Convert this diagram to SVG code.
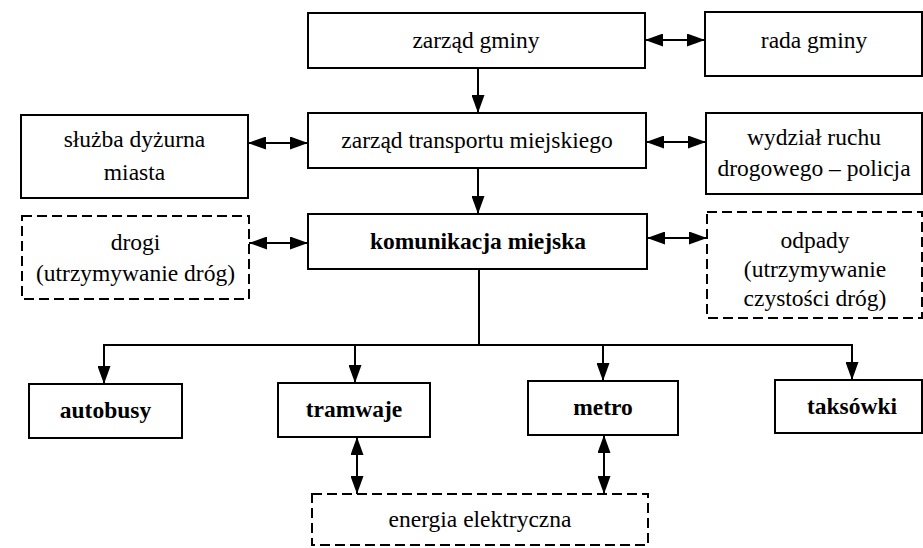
<svg xmlns="http://www.w3.org/2000/svg" width="923" height="548" viewBox="0 0 923 548">
  <defs>
    <marker id="head" viewBox="0 0 18 13" refX="18" refY="6.5" markerWidth="18" markerHeight="13" markerUnits="userSpaceOnUse" orient="auto-start-reverse">
      <path d="M0,0 L18,6.5 L0,13 Z" fill="#000"/>
    </marker>
    <style>
      .box { fill: #fff; stroke: #000; stroke-width: 2; }
      .dash { fill: #fff; stroke: #000; stroke-width: 2; stroke-dasharray: 10 5; }
      .t { font-family: 'Liberation Serif', 'Times New Roman', serif; font-size: 23.5px; text-anchor: middle; fill: #000; }
      .b { font-weight: bold; }
      .ln { fill: none; stroke: #000; stroke-width: 2; }
      .one { marker-end: url(#head); }
      .two { marker-start: url(#head); marker-end: url(#head); }
    </style>
  </defs>
  <rect width="923" height="548" fill="#fff"/>

  <g id="zarzad-gminy">
    <rect class="box" x="308" y="13" width="337" height="55"/>
    <text class="t" x="476" y="48">zarząd gminy</text>
  </g>
  <g id="rada-gminy">
    <rect class="box" x="705" y="12" width="217" height="64"/>
    <text class="t" x="814" y="48">rada gminy</text>
  </g>
  <g id="sluzba-dyzurna">
    <rect class="box" x="21" y="115" width="227" height="83"/>
    <text class="t" x="134.5" y="147">służba dyżurna</text>
    <text class="t" x="134.5" y="180">miasta</text>
  </g>
  <g id="zarzad-transportu">
    <rect class="box" x="308" y="113" width="338" height="55"/>
    <text class="t" x="477" y="148">zarząd transportu miejskiego</text>
  </g>
  <g id="wydzial-ruchu">
    <rect class="box" x="706" y="113" width="216" height="81"/>
    <text class="t" x="814" y="145">wydział ruchu</text>
    <text class="t" x="814" y="176">drogowego – policja</text>
  </g>
  <g id="komunikacja">
    <rect class="box" x="308" y="214" width="339" height="55"/>
    <text class="t b" x="478" y="249">komunikacja miejska</text>
  </g>
  <g id="drogi">
    <rect class="dash" x="22" y="216" width="227" height="83"/>
    <text class="t" x="135.5" y="250">drogi</text>
    <text class="t" x="135.5" y="281">(utrzymywanie dróg)</text>
  </g>
  <g id="odpady">
    <rect class="dash" x="707" y="212" width="215" height="106"/>
    <text class="t" x="815" y="248">odpady</text>
    <text class="t" x="815" y="277">(utrzymywanie</text>
    <text class="t" x="815" y="306">czystości dróg)</text>
  </g>
  <g id="autobusy">
    <rect class="box" x="29" y="384" width="153" height="54"/>
    <text class="t b" x="105.5" y="418">autobusy</text>
  </g>
  <g id="tramwaje">
    <rect class="box" x="278" y="383" width="152" height="54"/>
    <text class="t b" x="354" y="417">tramwaje</text>
  </g>
  <g id="metro">
    <rect class="box" x="528" y="381" width="150" height="54"/>
    <text class="t b" x="603" y="415">metro</text>
  </g>
  <g id="taksowki">
    <rect class="box" x="775" y="380" width="147" height="53"/>
    <text class="t b" x="852" y="414">taksówki</text>
  </g>
  <g id="energia">
    <rect class="dash" x="312" y="494" width="336" height="51"/>
    <text class="t" x="480" y="527">energia elektryczna</text>
  </g>

  <g id="connectors">
    <line class="ln two" x1="645" y1="40" x2="705" y2="40"/>
    <line class="ln one" x1="478" y1="68" x2="478" y2="113"/>
    <line class="ln two" x1="248" y1="143" x2="308" y2="143"/>
    <line class="ln two" x1="646" y1="142" x2="706" y2="142"/>
    <line class="ln one" x1="478" y1="168" x2="478" y2="214"/>
    <line class="ln two" x1="249" y1="243" x2="308" y2="243"/>
    <line class="ln two" x1="647" y1="238" x2="707" y2="238"/>
    <line class="ln" x1="479" y1="269" x2="479" y2="345"/>
    <line class="ln" x1="103" y1="345" x2="853" y2="345"/>
    <line class="ln one" x1="104" y1="345" x2="104" y2="384"/>
    <line class="ln one" x1="355" y1="345" x2="355" y2="383"/>
    <line class="ln one" x1="603" y1="345" x2="603" y2="381"/>
    <line class="ln one" x1="852" y1="345" x2="852" y2="380"/>
    <line class="ln two" x1="357" y1="437" x2="357" y2="494"/>
    <line class="ln two" x1="604" y1="435" x2="604" y2="494"/>
  </g>
</svg>
